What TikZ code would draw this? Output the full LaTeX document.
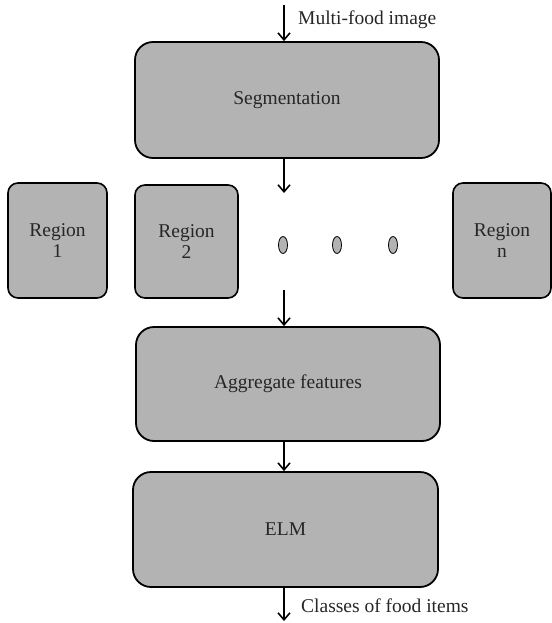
\documentclass[tikz,border=0pt]{standalone}
\usepackage{fontspec}
\setmainfont{Liberation Serif}
\usetikzlibrary{arrows.meta,shapes.geometric}
\definecolor{boxgray}{RGB}{179,179,179}
\tikzset{
  bigbox/.style={draw=black, line width=1.8pt, fill=boxgray, rounded corners=18pt, inner sep=0pt, font=\fontsize{19.5}{21}\selectfont, text=black!85},
  regbox/.style={draw=black, line width=1.6pt, fill=boxgray, rounded corners=10pt, inner sep=0pt, align=center, font=\fontsize{19.5}{21}\selectfont, text=black!85},
  dotov/.style={draw=black, line width=0.8pt, fill=boxgray, ellipse, minimum width=9pt, minimum height=17pt, inner sep=0pt},
  arr/.style={line width=1.6pt, -{Straight Barb[length=7pt,width=12pt,line width=1.6pt]}},
  lbl/.style={anchor=west, inner sep=0pt, font=\fontsize{19.5}{21}\selectfont, text=black!85}
}
\begin{document}
\begin{tikzpicture}[x=1pt,y=-1pt]
\useasboundingbox (0,0) rectangle (551,623);
\node[bigbox, minimum width=304pt, minimum height=116pt] (seg) at (287,100) {Segmentation};
\node[regbox, minimum width=99pt, minimum height=115pt] (r1) at (57.5,240.5) {Region\\1};
\node[regbox, minimum width=103pt, minimum height=113pt] (r2) at (186.5,241.5) {Region\\2};
\node[regbox, minimum width=98pt, minimum height=115pt] (rn) at (502,240.5) {Region\\n};
\node[dotov] (d1) at (283,245) {};
\node[dotov] (d2) at (337,245) {};
\node[dotov] (d3) at (393,245) {};
\node[bigbox, minimum width=304pt, minimum height=114pt] (agg) at (288,384) {Aggregate features};
\node[bigbox, minimum width=305pt, minimum height=115pt] (elm) at (285.5,529.5) {ELM};
\coordinate (in) at (284,5);
\coordinate (sp) at (284,193);
\coordinate (mg) at (284,290);
\coordinate (out) at (284,621);
\draw[arr] (in) -- (in |- seg.north);
\draw[arr] (in |- seg.south) -- (sp);
\draw[arr] (mg) -- (mg |- agg.north);
\draw[arr] (in |- agg.south) -- (in |- elm.north);
\draw[arr] (in |- elm.south) -- (out);
\node[lbl] (lin) at (298,20) {Multi-food image};
\node[lbl] (lout) at (301,606) {Classes of food items};
\end{tikzpicture}
\end{document}
